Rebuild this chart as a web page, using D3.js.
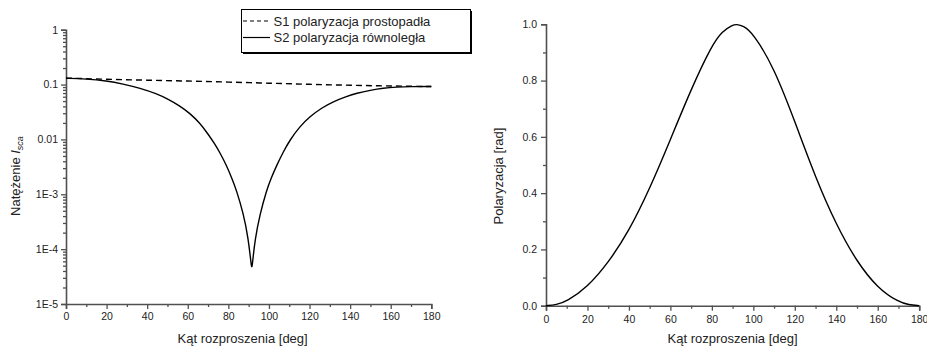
<!DOCTYPE html>
<html>
<head>
<meta charset="utf-8">
<script src="https://cdn.jsdelivr.net/npm/d3@7"></script>
<style>
  body { margin: 0; background: #fff; }
  svg { display: block; font-family: "Liberation Sans", Arial, sans-serif; }
</style>
</head>
<body>
<script>
'use strict';

// S1 - perpendicular polarisation (dashed)
const s1Angles = [0, 20, 40, 60, 80, 100, 120, 140, 160, 180];
const s1Values = [0.131, 0.125, 0.120, 0.116, 0.111, 0.106, 0.101, 0.097, 0.094, 0.092];

// S2 - parallel polarisation (solid), denser near the dip
const s2Angles = [0, 10, 20, 28, 36.5, 44.7, 50, 56, 61, 66, 70, 73, 76, 79, 82, 84, 87.4, 89.8, 91.2, 91.6,
                  92, 93.1, 95.6, 98.9, 101, 103.8, 107, 110.4, 115, 120.2, 126, 131.7, 138, 143.2, 150, 156.3, 163, 169.5, 180];
const s2Values = [0.130, 0.127, 0.117, 0.103, 0.086, 0.068, 0.055, 0.041, 0.030, 0.0198, 0.0125, 0.0086, 0.0056, 0.0034, 0.00186, 0.00118, 4.5e-4, 1.58e-4, 5.4e-5, 4.4e-5,
                  6e-5, 1.47e-4, 4.4e-4, 1.2e-3, 1.94e-3, 3.35e-3, 5.9e-3, 0.0098, 0.0169, 0.0261, 0.0376, 0.0489, 0.060, 0.0697, 0.079, 0.086, 0.090, 0.092, 0.092];

// degree of polarisation (right chart)
const polAngles = [0, 5, 10, 20, 30, 40, 50, 60, 70, 80, 85, 90, 92, 95, 100, 110, 120, 130, 140, 150, 160, 170, 175, 180];
const polValues = [0, 0.003, 0.015, 0.066, 0.152, 0.265, 0.415, 0.59, 0.77, 0.926, 0.975, 0.998, 1.0, 0.995, 0.968, 0.845, 0.655, 0.455, 0.287, 0.155, 0.062, 0.013, 0.003, 0];

const angleTicks = [0, 20, 40, 60, 80, 100, 120, 140, 160, 180];
const logTicks = [1e-5, 1e-4, 1e-3, 0.01, 0.1, 1];
const logTickLabels = ['1E-5', '1E-4', '1E-3', '0.01', '0.1', '1'];
const polTicks = [0, 0.2, 0.4, 0.6, 0.8, 1.0];

const legendLabels = ['S1 polaryzacja prostopadła', 'S2 polaryzacja równoległa'];
const xTitle = 'Kąt rozproszenia [deg]';

const width = 927, height = 348;
const axisColor = '#505050';
const textColor = '#222';

const svg = d3.select('body').append('svg')
    .attr('width', width)
    .attr('height', height)
    .attr('viewBox', [0, 0, width, height]);

// style an axis group Origin-like
function styleAxis(g, fontSize) {
  g.select('.domain').attr('stroke', axisColor).attr('stroke-width', 1.6);
  g.selectAll('.tick line').attr('stroke', axisColor).attr('stroke-width', 1.3);
  g.selectAll('.tick text').attr('fill', textColor).attr('font-size', fontSize);
  g.attr('font-family', null);
}

// ---------- left chart: intensities on log scale ----------
const xL = d3.scaleLinear().domain([0, 180]).range([66, 431.3]);
const yL = d3.scaleLog().domain([1e-5, 1]).range([304, 29.7]);

// minor ticks first so the main axis lines sit on top
const minorLog = [];
logTicks.slice(0, -1).forEach(t => { for (let k = 2; k <= 9; k++) minorLog.push(t * k); });
svg.append('g')
    .attr('transform', `translate(${xL(0)},0)`)
    .call(d3.axisLeft(yL).tickValues(minorLog).tickSize(3).tickFormat(''))
    .call(g => { styleAxis(g, 10.5); g.select('.domain').remove(); });
svg.append('g')
    .attr('transform', `translate(0,${yL(1e-5)})`)
    .call(d3.axisBottom(xL).tickValues(d3.range(10, 180, 20)).tickSize(3).tickFormat(''))
    .call(g => { styleAxis(g, 10.5); g.select('.domain').remove(); });

svg.append('g')
    .attr('transform', `translate(${xL(0)},0)`)
    .call(d3.axisLeft(yL).tickValues(logTicks).tickSize(5).tickPadding(3)
      .tickFormat((d, i) => logTickLabels[i]))
    .call(g => styleAxis(g, 10.5));
svg.append('g')
    .attr('transform', `translate(0,${yL(1e-5)})`)
    .call(d3.axisBottom(xL).tickValues(angleTicks).tickSize(5).tickPadding(4))
    .call(g => styleAxis(g, 10.5));

// B-spline keeps the sampled curves smooth like the original plot
const lineL = d3.line()
    .x(d => xL(d[0]))
    .y(d => yL(d[1]))
    .curve(d3.curveBasis);

svg.append('path')
    .datum(d3.zip(s1Angles, s1Values))
    .attr('d', lineL)
    .attr('fill', 'none')
    .attr('stroke', '#000')
    .attr('stroke-width', 1.4)
    .attr('stroke-dasharray', '6,4');

svg.append('path')
    .datum(d3.zip(s2Angles, s2Values))
    .attr('d', lineL)
    .attr('fill', 'none')
    .attr('stroke', '#000')
    .attr('stroke-width', 1.4);

// axis titles
svg.append('text')
    .attr('x', (xL.range()[0] + xL.range()[1]) / 2 - 6)
    .attr('y', 343)
    .attr('text-anchor', 'middle')
    .attr('font-size', 13)
    .attr('fill', textColor)
    .text(xTitle);

const yTitleL = svg.append('text')
    .attr('transform', 'translate(20,176) rotate(-90)')
    .attr('text-anchor', 'middle')
    .attr('font-size', 13)
    .attr('fill', textColor);
yTitleL.append('tspan').text('Natężenie ');
yTitleL.append('tspan').attr('font-style', 'italic').text('I');
yTitleL.append('tspan').attr('font-style', 'italic').attr('font-size', 9).attr('dy', 3).text('sca');

// legend, box with a small shadow like the original
const legend = svg.append('g');
legend.append('rect')
    .attr('x', 243).attr('y', 11).attr('width', 229).attr('height', 43)
    .attr('fill', '#000');
legend.append('rect')
    .attr('x', 241.5).attr('y', 9.5).attr('width', 229).attr('height', 43)
    .attr('fill', '#fff').attr('stroke', '#000').attr('stroke-width', 1);

legend.selectAll('line.key')
  .data(legendLabels)
  .join('line')
    .attr('class', 'key')
    .attr('x1', 243).attr('x2', 270)
    .attr('y1', (d, i) => 21 + i * 16.5)
    .attr('y2', (d, i) => 21 + i * 16.5)
    .attr('stroke', '#000')
    .attr('stroke-width', 1.2)
    .attr('stroke-dasharray', (d, i) => i === 0 ? '4,3' : null);

legend.selectAll('text')
  .data(legendLabels)
  .join('text')
    .attr('x', 273.5)
    .attr('y', (d, i) => 25.5 + i * 16.5)
    .attr('font-size', 13)
    .attr('fill', textColor)
    .text(d => d);

// ---------- right chart: polarisation ----------
const xR = d3.scaleLinear().domain([0, 180]).range([546, 919.2]);
const yR = d3.scaleLinear().domain([0, 1]).range([305.7, 24.3]);

svg.append('g')
    .attr('transform', `translate(${xR(0)},0)`)
    .call(d3.axisLeft(yR).tickValues(d3.range(0.1, 1, 0.2)).tickSize(3).tickFormat(''))
    .call(g => { styleAxis(g, 10.5); g.select('.domain').remove(); });
svg.append('g')
    .attr('transform', `translate(0,${yR(0)})`)
    .call(d3.axisBottom(xR).tickValues(d3.range(10, 180, 20)).tickSize(3).tickFormat(''))
    .call(g => { styleAxis(g, 10.5); g.select('.domain').remove(); });

svg.append('g')
    .attr('transform', `translate(${xR(0)},0)`)
    .call(d3.axisLeft(yR).tickValues(polTicks).tickSize(5).tickPadding(4).tickFormat(d3.format('.1f')))
    .call(g => styleAxis(g, 10.5));
svg.append('g')
    .attr('transform', `translate(0,${yR(0)})`)
    .call(d3.axisBottom(xR).tickValues(angleTicks).tickSize(5).tickPadding(5))
    .call(g => styleAxis(g, 10.5));

svg.append('path')
    .datum(d3.zip(polAngles, polValues))
    .attr('d', d3.line().x(d => xR(d[0])).y(d => yR(d[1])).curve(d3.curveBasis))
    .attr('fill', 'none')
    .attr('stroke', '#000')
    .attr('stroke-width', 1.4);

svg.append('text')
    .attr('x', (xR.range()[0] + xR.range()[1]) / 2)
    .attr('y', 343)
    .attr('text-anchor', 'middle')
    .attr('font-size', 13)
    .attr('fill', textColor)
    .text(xTitle);

svg.append('text')
    .attr('transform', 'translate(503,176) rotate(-90)')
    .attr('text-anchor', 'middle')
    .attr('font-size', 13)
    .attr('fill', textColor)
    .text('Polaryzacja [rad]');
</script>
</body>
</html>
